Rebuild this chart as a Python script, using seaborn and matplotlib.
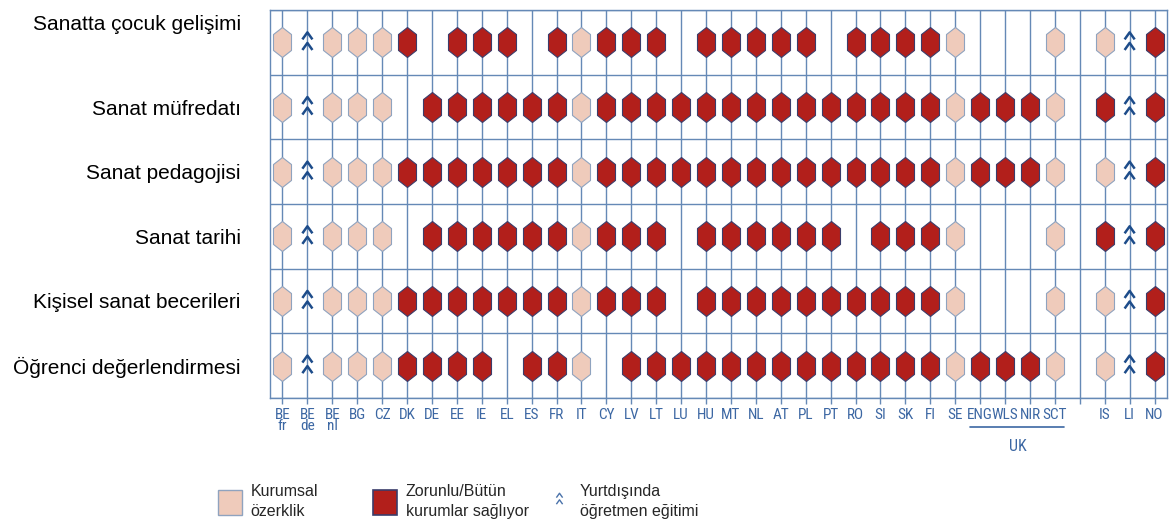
import matplotlib.pyplot as plt
import matplotlib.transforms as mtransforms
import numpy as np
import pandas as pd
import seaborn as sns
from matplotlib.lines import Line2D
from matplotlib.patches import Patch
from matplotlib.path import Path

sns.set_style("white")
plt.rcParams["font.family"] = ["Liberation Sans", "DejaVu Sans"]

# ---- data ----
countries = ["BE\nfr", "BE\nde", "BE\nnl", "BG", "CZ", "DK", "DE", "EE", "IE", "EL",
             "ES", "FR", "IT", "CY", "LV", "LT", "LU", "HU", "MT", "NL", "AT", "PL",
             "PT", "RO", "SI", "SK", "FI", "SE", "ENG", "WLS", "NIR", "SCT", "",
             "IS", "LI", "NO"]

row_labels = ["Sanatta çocuk gelişimi", "Sanat müfredatı", "Sanat pedagojisi",
              "Sanat tarihi", "Kişisel sanat becerileri", "Öğrenci değerlendirmesi"]

# A = kurumsal özerklik, M = zorunlu, T = yurtdışında öğretmen eğitimi, . = yok
child_dev = "A T A A A M . M M M . M A M M M . M M M M M . M M M M A . . . A . A T M".split()
curriculum = "A T A A A . M M M M M M A M M M M M M M M M M M M M M A M M M A . M T M".split()
pedagogy = "A T A A A M M M M M M M A M M M M M M M M M M M M M M A M M M A . A T M".split()
history = "A T A A A . M M M M M M A M M M . M M M M M M . M M M A . . . A . M T M".split()
skills = "A T A A A M M M M M M M A M M M . M M M M M M M M M M A . . . A . A T M".split()
assessment = "A T A A A M M M M . M M A . M M M M M M M M M M M M M A M M M A . A T M".split()

rows = [child_dev, curriculum, pedagogy, history, skills, assessment]

records = []
for r, codes in enumerate(rows):
    for c, code in enumerate(codes):
        records.append({"x": c, "y": r, "status": code})
df = pd.DataFrame(records)

# ---- styles ----
light = "#efcbbb"
light_edge = "#8fa3bf"
dark = "#b21f1b"
dark_edge = "#3b3d6b"
grid_col = "#6589b6"
tick_col = "#3c67a3"
navy = "#1d4c8a"
narrow = ["Roboto Condensed", "Liberation Sans Narrow", "DejaVu Sans"]

hexagon = Path([(0, 1), (0.6, 0.53), (0.6, -0.53), (0, -1), (-0.6, -0.53),
                (-0.6, 0.53), (0, 1)], closed=True)
chevrons = Path([(-0.5, 0.3), (0, 1.0), (0.5, 0.3), (-0.5, -0.75), (0, -0.05), (0.5, -0.75)],
                [Path.MOVETO, Path.LINETO, Path.LINETO, Path.MOVETO, Path.LINETO, Path.LINETO])

fig, ax = plt.subplots(figsize=(11.71, 5.32), dpi=100)
fig.subplots_adjust(left=0.2306, right=0.9966, top=0.981, bottom=0.252)

# grid
for i in range(len(countries)):
    ax.axvline(i, color=grid_col, lw=1.0, zorder=1)
for r in range(len(rows) + 1):
    ax.axhline(r - 0.5, color=grid_col, lw=1.0, zorder=1)

sns.scatterplot(data=df[df["status"] == "A"], x="x", y="y", marker=hexagon, s=467,
                color=light, edgecolor=light_edge, linewidth=0.8, zorder=3, ax=ax, legend=False)
sns.scatterplot(data=df[df["status"] == "M"], x="x", y="y", marker=hexagon, s=467,
                color=dark, edgecolor=dark_edge, linewidth=0.8, zorder=3, ax=ax, legend=False)
t = df[df["status"] == "T"]
ax.scatter(t["x"], t["y"], marker=chevrons, s=210, facecolors="none",
           edgecolors=navy, linewidths=1.8, zorder=3)

ax.set_xlim(-0.5, len(countries) - 0.5)
ax.set_ylim(len(rows) - 0.5, -0.5)
ax.set_xlabel("")
ax.set_ylabel("")
for sp in ax.spines.values():
    sp.set_color(grid_col)
    sp.set_linewidth(1.0)

ax.set_xticks(range(len(countries)))
ax.set_xticklabels(countries, fontfamily=narrow, fontstretch="condensed",
                   fontsize=11, color=tick_col, linespacing=0.78)
ax.tick_params(axis="x", bottom=True, length=4, width=1, color=grid_col, pad=3)

ax.set_yticks(range(len(rows)))
ax.set_yticklabels(row_labels, fontsize=15, color="black")
ax.tick_params(axis="y", left=False, length=0, pad=21)
first = ax.get_yticklabels()[0]
first.set_transform(first.get_transform() +
                    mtransforms.ScaledTranslation(0, 0.2, fig.dpi_scale_trans))

# UK bracket
trans = mtransforms.blended_transform_factory(ax.transData, ax.transAxes)
i0, i1 = countries.index("ENG"), countries.index("SCT")
ax.plot([i0 - 0.4, i1 + 0.35], [-0.075, -0.075], transform=trans, clip_on=False,
        color=tick_col, lw=1.2)
ax.text((i0 + i1) / 2, -0.125, "UK", transform=trans, ha="center", va="center",
        fontfamily=narrow, fontstretch="condensed", fontsize=11.5, color=tick_col)

# legend
leg_kw = dict(frameon=False, fontsize=11.5, loc="upper left", borderaxespad=0,
              borderpad=0, handletextpad=0.55, handlelength=1.5, handleheight=2.0)
legs = []
legs.append(fig.legend(handles=[Patch(facecolor=light, edgecolor=light_edge)],
                       labels=["Kurumsal\nözerklik"],
                       bbox_to_anchor=(218 / 1171, 1 - 484 / 532), **leg_kw))
legs.append(fig.legend(handles=[Patch(facecolor=dark, edgecolor=dark_edge, linewidth=1.2)],
                       labels=["Zorunlu/Bütün\nkurumlar sağlıyor"],
                       bbox_to_anchor=(373 / 1171, 1 - 484 / 532), **leg_kw))
legs.append(fig.legend(handles=[Line2D([], [], marker=chevrons, linestyle="none", markersize=9,
                                       markerfacecolor="none", markeredgecolor="#4a72aa",
                                       markeredgewidth=1.0)],
                       labels=["Yurtdışında\nöğretmen eğitimi"],
                       bbox_to_anchor=(547 / 1171, 1 - 484 / 532), **leg_kw))
for leg in legs:
    for txt in leg.get_texts():
        txt.set_linespacing(1.45)

plt.savefig("out.png", dpi=100)
